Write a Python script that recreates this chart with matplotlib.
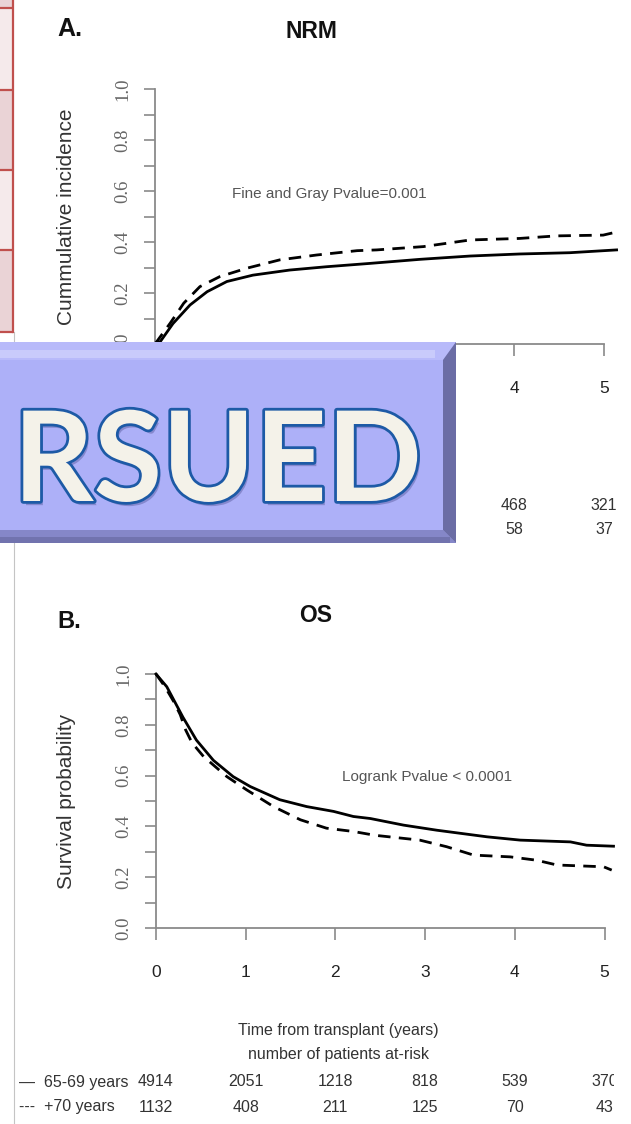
import matplotlib
matplotlib.use("Agg")
import matplotlib.pyplot as plt
import matplotlib.patheffects as pe
import matplotlib.transforms as mtransforms
from matplotlib.patches import Polygon, Rectangle

W, H = 631, 1124

# NRM (cumulative incidence)
nrm_t_6569 = [0, 0.06, 0.2, 0.39, 0.58, 0.8, 1.09, 1.5, 1.91, 2.39, 2.95, 3.51, 4.06, 4.62, 5.14]
nrm_c_6569 = [0, 0.01, 0.08, 0.153, 0.205, 0.245, 0.27, 0.29, 0.303, 0.316, 0.332, 0.345, 0.353, 0.358, 0.369]
nrm_t_70 = [0, 0.17, 0.32, 0.5, 0.72, 1.02, 1.39, 1.8, 2.25, 2.47, 2.99, 3.51, 4.06, 4.47, 4.99, 5.15]
nrm_c_70 = [0, 0.082, 0.16, 0.225, 0.264, 0.297, 0.33, 0.349, 0.366, 0.369, 0.382, 0.408, 0.414, 0.424, 0.427, 0.44]

# OS (survival probability)
os_t_6569 = [0, 0.12, 0.3, 0.45, 0.64, 0.86, 1.05, 1.38, 1.68, 1.98, 2.2, 2.39, 2.76, 3.13, 3.69, 4.06, 4.62, 4.8, 5.1]
os_s_6569 = [1, 0.95, 0.83, 0.74, 0.66, 0.596, 0.557, 0.505, 0.478, 0.459, 0.439, 0.431, 0.405, 0.385, 0.359, 0.346, 0.339, 0.326, 0.322]
os_t_70 = [0, 0.1, 0.2, 0.27, 0.33, 0.4, 0.53, 0.79, 1.01, 1.31, 1.61, 1.9, 2.2, 2.44, 2.94, 3.24, 3.54, 3.95, 4.24, 4.47, 4.99, 5.08]
os_s_70 = [1, 0.95, 0.89, 0.84, 0.78, 0.73, 0.675, 0.596, 0.544, 0.478, 0.426, 0.393, 0.38, 0.365, 0.346, 0.32, 0.287, 0.28, 0.267, 0.248, 0.241, 0.228]

years = [0, 1, 2, 3, 4, 5]
ytick_major = [0.0, 0.2, 0.4, 0.6, 0.8, 1.0]
ytick_minor = [0.1, 0.3, 0.5, 0.7, 0.9]

os_risk_6569 = [4914, 2051, 1218, 818, 539, 370]
os_risk_70 = [1132, 408, 211, 125, 70, 43]
nrm_risk_years = [4, 5]
nrm_risk_6569 = [468, 321]
nrm_risk_70 = [58, 37]
group_labels = ["\u2014  65-69 years", "---  +70 years"]

SANS = "Liberation Sans"
AXCOL = "#8a8a8a"

fig = plt.figure(figsize=(W / 100, H / 100), dpi=100)


def px_axes(left, top, right, bottom, **kw):
    return fig.add_axes([left / W, 1 - bottom / H, (right - left) / W, (bottom - top) / H], **kw)


def style(ax, ylabel, label_x):
    ax.patch.set_alpha(0)
    ax.set_xlim(0, 5.1)
    ax.set_ylim(0, 1)
    for s in ["top", "right"]:
        ax.spines[s].set_visible(False)
    ax.spines["left"].set_bounds(0, 1)
    ax.spines["bottom"].set_bounds(0, 5)
    for s in ["left", "bottom"]:
        ax.spines[s].set_color(AXCOL)
        ax.spines[s].set_linewidth(1.3)
    ax.set_xticks(years)
    ax.set_xticklabels([str(y) for y in years], family=SANS, fontsize=12.5, color="#222222")
    ax.set_yticks(ytick_major)
    ax.set_yticks(ytick_minor, minor=True)
    ax.set_yticklabels([f"{v:.1f}" for v in ytick_major], family="Liberation Serif",
                       fontsize=13.5, color="#666666", rotation=90, va="center")
    ax.tick_params(axis="y", which="both", length=8, width=1.2, color=AXCOL, pad=9)
    ax.tick_params(axis="x", length=8.5, width=1.2, color=AXCOL, pad=18)
    ax.set_ylabel(ylabel, family=SANS, fontsize=15, color="#333333")
    ax.yaxis.label.set_va("center")
    ax.yaxis.set_label_coords(label_x, 0.5)


# Panel A: NRM
axA = px_axes(155, 89, 613, 344)
style(axA, "Cummulative incidence", (67 - 155) / 458)
axA.plot(nrm_t_6569, nrm_c_6569, color="black", lw=2.0, clip_on=False, zorder=3)
axA.plot(nrm_t_70, nrm_c_70, color="black", lw=2.0, dashes=(4.5, 3), clip_on=False, zorder=3)
axA.text(0.86, 0.588, "Fine and Gray Pvalue=0.001", family=SANS, fontsize=11, color="#555555", va="center")

# Panel B: OS
axB = px_axes(156, 674, 613.5, 928)
style(axB, "Survival probability", (66 - 156) / 457.5)
axB.plot(os_t_6569, os_s_6569, color="black", lw=2.0, clip_on=False, zorder=3)
axB.plot(os_t_70, os_s_70, color="black", lw=2.0, dashes=(4.5, 3), clip_on=False, zorder=3)
axB.text(2.07, 0.593, "Logrank Pvalue < 0.0001", family=SANS, fontsize=11, color="#555555", va="center")

# overlay in pixel coordinates
ov = fig.add_axes([0, 0, 1, 1], zorder=10)
ov.set_xlim(0, W)
ov.set_ylim(H, 0)
ov.axis("off")

# panel letters and titles
ov.text(57, 29, "A.", family=SANS, weight="bold", fontsize=18, color="#111111", va="center")
ov.text(311, 31, "NRM", family=SANS, weight="bold", fontsize=16.5, color="#111111", ha="center", va="center")
ov.text(57, 621, "B.", family=SANS, weight="bold", fontsize=17, color="#111111", va="center")
ov.text(316, 616, "OS", family=SANS, weight="bold", fontsize=16.5, color="#111111", ha="center", va="center")

# at-risk tables
txt = dict(family=SANS, fontsize=11.5, color="#333333", va="center")


def risk_block(ax, axis_y, row1, row2, row_years, labels=True):
    tr = mtransforms.blended_transform_factory(ax.transData, ov.transData)
    if labels:
        ov.text(338, axis_y + 102, "Time from transplant (years)", ha="center", **txt)
        ov.text(338, axis_y + 127, "number of patients at-risk", ha="center", **txt)
        ov.text(19, axis_y + 154, group_labels[0], ha="left", **txt)
        ov.text(19, axis_y + 179, group_labels[1], ha="left", **txt)
    for vals, dy in [(row1, 154), (row2, 179)]:
        for yr, v in zip(row_years, vals):
            ov.text(yr, axis_y + dy, str(v), ha="center", transform=tr, zorder=1, **txt)


# panel A: only the columns that are not under the banner
risk_block(axA, 351, nrm_risk_6569, nrm_risk_70, nrm_risk_years, labels=False)
risk_block(axB, 928, os_risk_6569, os_risk_70, years)

# the OS picture is cropped just right of its last column
ov.add_patch(Rectangle((614, 1068), W - 614, 26, color="white", lw=0, zorder=2))

# slide table fragment on the left
red = "#c0504d"
cells = [(0, 8, "#ead3d6"), (8, 90, "#f5eaeb"), (90, 170, "#ead3d6"), (170, 250, "#f5eaeb"), (250, 332, "#ead3d6")]
for y0, y1, c in cells:
    ov.add_patch(Rectangle((0, y0), 13, y1 - y0, color=c, lw=0, zorder=2))
for yy in [8, 90, 170, 250, 332]:
    ov.plot([0, 13], [yy, yy], color=red, lw=1.6, zorder=3, solid_capstyle="butt")
ov.plot([13, 13], [0, 332], color=red, lw=1.6, zorder=3)
ov.plot([14, 14], [332, H], color="#c4c4c4", lw=0.8, zorder=2)

# beveled banner
bx0, bx1, by0, by1, bev = 0, 456, 342, 543, 13
ov.add_patch(Rectangle((bx0, by0), bx1 - bx0, by1 - by0, color="#adb0f8", lw=0, zorder=5))
ov.add_patch(Polygon([(bx0, by0), (bx1, by0), (bx1 - bev, by0 + 18), (bx0, by0 + 18)], color="#b8bafa", lw=0, zorder=6))
ov.add_patch(Rectangle((bx0, by0 + 8), bx1 - bev - 8, 8, color="#c9cbfb", lw=0, zorder=6))
ov.add_patch(Polygon([(bx0, by1), (bx1, by1), (bx1 - bev, by1 - bev), (bx0, by1 - bev)], color="#8587c8", lw=0, zorder=6))
ov.add_patch(Rectangle((bx0, by1 - 6), bx1 - 6, 6, color="#7173ae", lw=0, zorder=6))
ov.add_patch(Polygon([(bx1, by0), (bx1, by1), (bx1 - bev, by1 - bev), (bx1 - bev, by0 + 18)], color="#6b6da5", lw=0, zorder=7))

# banner word (its first letters run off the left edge of the slide)
ov.text(422, 501, "RSUED", family="Lato", weight="bold", fontsize=90, color="#f4f2e9",
        ha="right", va="baseline", zorder=8,
        path_effects=[pe.SimplePatchShadow(offset=(2, -3), shadow_rgbFace="#3b3f80", alpha=0.35),
                      pe.Stroke(linewidth=4, foreground="#1d5aa6"), pe.Normal()])

fig.savefig("out.png", dpi=100)
